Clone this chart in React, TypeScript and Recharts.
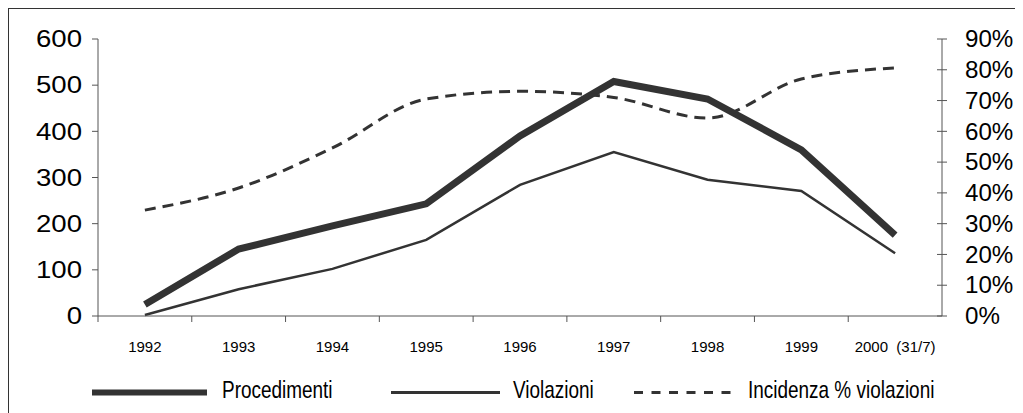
import { LineChart, Line, XAxis, YAxis, Legend } from 'recharts';

// values
const years = ['1992', '1993', '1994', '1995', '1996', '1997', '1998', '1999', '2000\u00a0\u00a0(31/7)'];
const procedimenti = [25, 145, 195, 243, 390, 508, 470, 360, 175];
const violazioni = [2, 58, 102, 165, 284, 355, 295, 271, 136];
const incidenza = [34.4, 41.6, 54.6, 70.5, 73, 71, 64.3, 77, 80.6];
const leftTicks = [0, 100, 200, 300, 400, 500, 600];
const rightTicks = [0, 10, 20, 30, 40, 50, 60, 70, 80, 90];

const data = years.map((year, i) => ({
    year,
    procedimenti: procedimenti[i],
    violazioni: violazioni[i],
    incidenza: incidenza[i],
}));

const W = 1030;
const H = 400;
const MARGIN = { top: 30, right: 27, left: 29, bottom: 2 };
const LEFT_W = 60;
const RIGHT_W = 70;
const PLOT_W = W - MARGIN.left - MARGIN.right - LEFT_W - RIGHT_W;
const BAND = PLOT_W / years.length;
const INK = '#333';
const AXIS = '#555';
const FONT = '"Liberation Sans", Arial, sans-serif';

// legend entries, in the reference's order
const legendItems = [
    { name: 'Procedimenti', width: 6, dash: undefined, x1: 83, x2: 198, tx: 213 },
    { name: 'Violazioni', width: 3, dash: undefined, x1: 382, x2: 491, tx: 504 },
    { name: 'Incidenza % violazioni', width: 3, dash: '9 8.5', x1: 625, x2: 724, tx: 739 },
];

// x labels sit between the tick marks (ticks on band edges)
const XTick = ({ x, y, payload }: any) => {
    const axisY = y - 25;
    return (
        <g>
            <line x1={x - BAND / 2} y1={axisY} x2={x - BAND / 2} y2={axisY + 6} stroke={AXIS} />
            <text x={x} y={y} dy="0.71em" textAnchor="middle" fontSize={15} fill="#000" fontFamily={FONT}>
                {payload.value}
            </text>
        </g>
    );
};

const LeftTick = ({ x, y, payload }: any) => (
    <text
        transform={`translate(${x},${y}) scale(1.2,1)`}
        dy="0.355em"
        textAnchor="end"
        fontSize={23}
        fill="#000"
        fontFamily={FONT}
    >
        {payload.value}
    </text>
);

const RightTick = ({ x, y, payload }: any) => {
    const axisX = x - 23;
    return (
        <g>
            <line x1={axisX - 5} y1={y} x2={axisX + 5} y2={y} stroke={AXIS} />
            <text
                transform={`translate(${x},${y}) scale(1.05,1)`}
                dy="0.355em"
                textAnchor="start"
                fontSize={23}
                fill="#000"
                fontFamily={FONT}
            >
                {`${payload.value}%`}
            </text>
        </g>
    );
};

const LegendContent = () => (
    <svg width={W} height={30}>
        {legendItems.map((item) => (
            <g key={item.name}>
                <line
                    x1={item.x1}
                    y1={15.5}
                    x2={item.x2}
                    y2={15.5}
                    stroke={INK}
                    strokeWidth={item.width}
                    strokeDasharray={item.dash}
                />
                <text
                    transform={`translate(${item.tx},21) scale(0.79,1)`}
                    fontSize={24}
                    fill="#000"
                    fontFamily={FONT}
                >
                    {item.name}
                </text>
            </g>
        ))}
    </svg>
);

export default function App() {
    return (
        <div style={{ width: 1015, height: 405, overflow: 'hidden', fontFamily: FONT }}>
            <div style={{ border: '1px solid #333', width: 1040, height: 430 }}>
                <LineChart width={W} height={H} data={data} margin={MARGIN}>
                    <XAxis
                        dataKey="year"
                        scale="band"
                        tickLine={false}
                        tickSize={6}
                        tickMargin={19}
                        axisLine={{ stroke: AXIS }}
                        tick={<XTick />}
                        interval={0}
                        height={61}
                    />
                    <YAxis
                        yAxisId="left"
                        domain={[0, 600]}
                        ticks={leftTicks}
                        width={LEFT_W}
                        tickSize={6}
                        tickMargin={10}
                        tickLine={{ stroke: AXIS }}
                        axisLine={{ stroke: AXIS }}
                        tick={<LeftTick />}
                        interval={0}
                    />
                    <YAxis
                        yAxisId="right"
                        orientation="right"
                        domain={[0, 90]}
                        ticks={rightTicks}
                        width={RIGHT_W}
                        tickSize={0}
                        tickMargin={23}
                        tickLine={false}
                        axisLine={{ stroke: AXIS }}
                        tick={<RightTick />}
                        interval={0}
                    />
                    <Legend
                        verticalAlign="bottom"
                        content={<LegendContent />}
                        wrapperStyle={{ left: 0, bottom: 2, width: W, height: 30 }}
                    />
                    <Line
                        yAxisId="left"
                        type="linear"
                        dataKey="procedimenti"
                        name="Procedimenti"
                        stroke={INK}
                        strokeWidth={7}
                        dot={false}
                        activeDot={false}
                        isAnimationActive={false}
                    />
                    <Line
                        yAxisId="left"
                        type="linear"
                        dataKey="violazioni"
                        name="Violazioni"
                        stroke={INK}
                        strokeWidth={2.5}
                        dot={false}
                        activeDot={false}
                        isAnimationActive={false}
                    />
                    <Line
                        yAxisId="right"
                        type="monotone"
                        dataKey="incidenza"
                        name="Incidenza % violazioni"
                        stroke={INK}
                        strokeWidth={3}
                        strokeDasharray="11 7"
                        dot={false}
                        activeDot={false}
                        isAnimationActive={false}
                    />
                </LineChart>
            </div>
        </div>
    );
}
